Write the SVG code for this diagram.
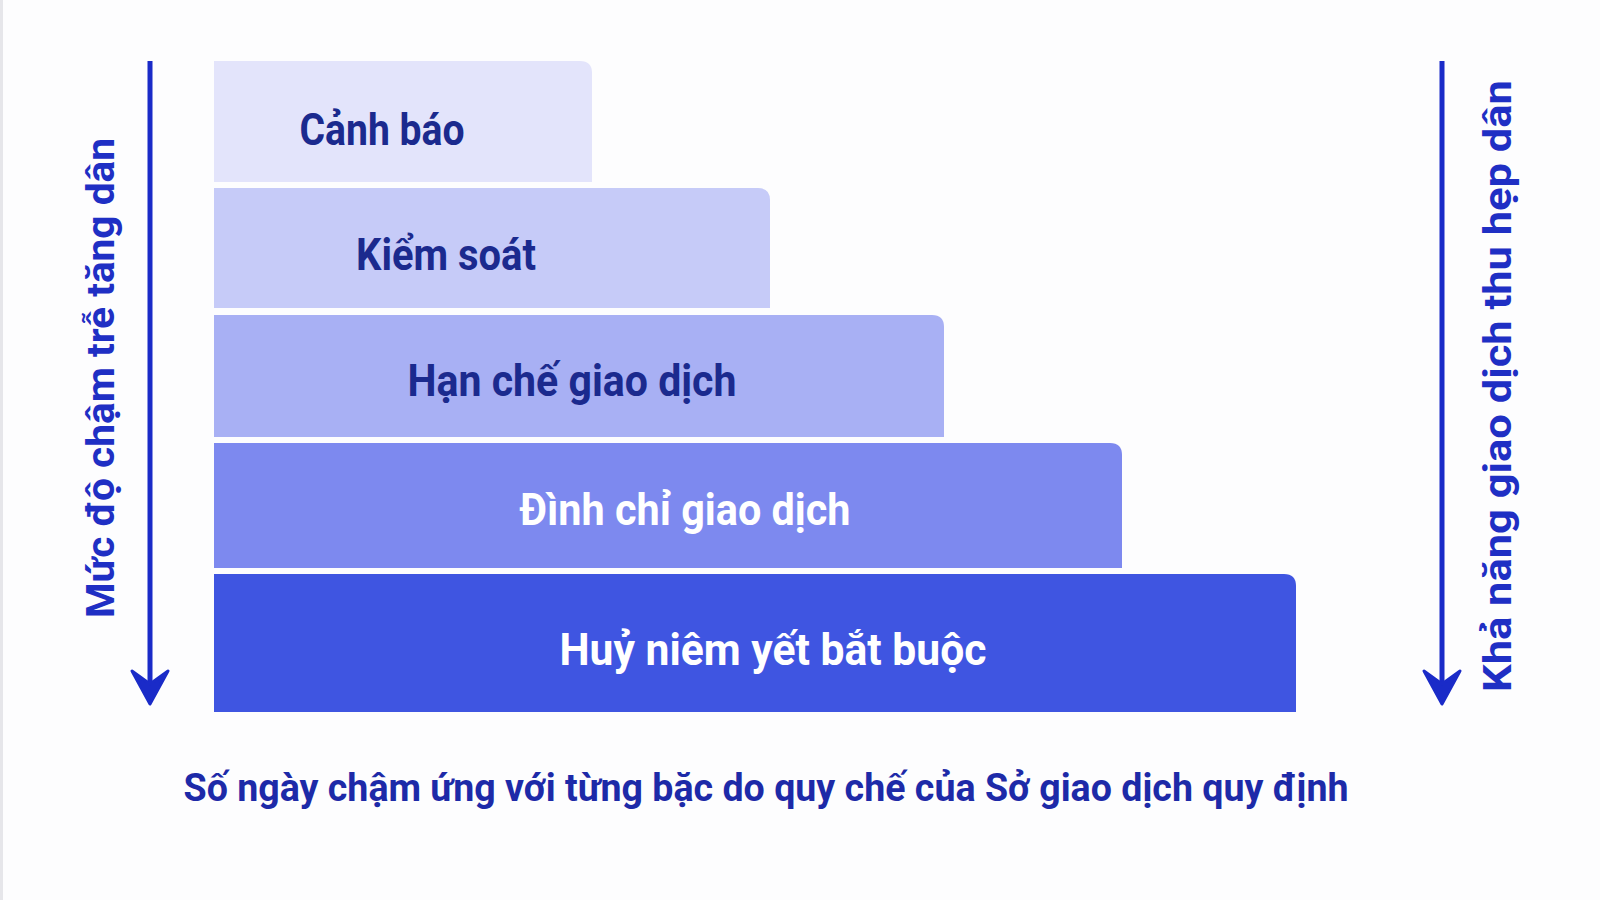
<svg xmlns="http://www.w3.org/2000/svg" width="1600" height="900" viewBox="0 0 1600 900">
<style>
.lbl{font-family:Roboto,"Liberation Sans","Noto Sans",sans-serif;font-weight:700;text-anchor:middle}
.dark{fill:#1b2a8e}
.light{fill:#ffffff}
.axis{fill:#1f2fc4;font-family:Roboto,"Liberation Sans","Noto Sans",sans-serif;font-weight:700;text-anchor:middle}
.line{stroke:#1a2bc8;stroke-width:5;fill:none}
.head{fill:#1a2bc8}
</style>
<rect x="0" y="0" width="1600" height="900" fill="#fdfdfe"/>
<rect x="0" y="0" width="3" height="900" fill="#e6e6ea"/>
<g id="level1">
<path d="M214 61 H580 Q592 61 592 73 V182 H214 Z" fill="#e3e4fb"/>
<text class="lbl dark" x="382" y="145" font-size="44" textLength="165" lengthAdjust="spacingAndGlyphs">Cảnh báo</text>
</g>
<g id="level2">
<path d="M214 188 H758 Q770 188 770 200 V308 H214 Z" fill="#c6cbf8"/>
<text class="lbl dark" x="446" y="270" font-size="44" textLength="180" lengthAdjust="spacingAndGlyphs">Kiểm soát</text>
</g>
<g id="level3">
<path d="M214 315 H932 Q944 315 944 327 V437 H214 Z" fill="#a8b0f4"/>
<text class="lbl dark" x="572" y="396" font-size="44" textLength="329" lengthAdjust="spacingAndGlyphs">Hạn chế giao dịch</text>
</g>
<g id="level4">
<path d="M214 443 H1110 Q1122 443 1122 455 V568 H214 Z" fill="#7d89ef"/>
<text class="lbl light" x="685" y="525" font-size="44" textLength="331" lengthAdjust="spacingAndGlyphs">Đình chỉ giao dịch</text>
</g>
<g id="level5">
<path d="M214 574 H1284 Q1296 574 1296 586 V712 H214 Z" fill="#3f55e1"/>
<text class="lbl light" x="773" y="665" font-size="44" textLength="427" lengthAdjust="spacingAndGlyphs">Huỷ niêm yết bắt buộc</text>
</g>
<g id="connectors">
<line class="line" x1="150" y1="61" x2="150" y2="695"/>
<path class="head" d="M150 704 L132 671 L150 684 L168 671 Z" stroke="#1a2bc8" stroke-width="3" stroke-linejoin="round"/>
<line class="line" x1="1442" y1="61" x2="1442" y2="695"/>
<path class="head" d="M1442 704 L1424 671 L1442 684 L1460 671 Z" stroke="#1a2bc8" stroke-width="3" stroke-linejoin="round"/>
</g>
<g id="axis-left">
<text class="axis" transform="translate(114 378) rotate(-90)" font-size="38" textLength="480" lengthAdjust="spacingAndGlyphs">Mức độ chậm trễ tăng dân</text>
</g>
<g id="axis-right">
<text class="axis" transform="translate(1511 386) rotate(-90)" font-size="38" textLength="612" lengthAdjust="spacingAndGlyphs">Khả năng giao dịch thu hẹp dân</text>
</g>
<g id="caption">
<text class="lbl" fill="#1d2aa8" x="766" y="801" font-size="38" textLength="1165" lengthAdjust="spacingAndGlyphs">Số ngày chậm ứng với từng bặc do quy chế của Sở giao dịch quy định</text>
</g>
</svg>
